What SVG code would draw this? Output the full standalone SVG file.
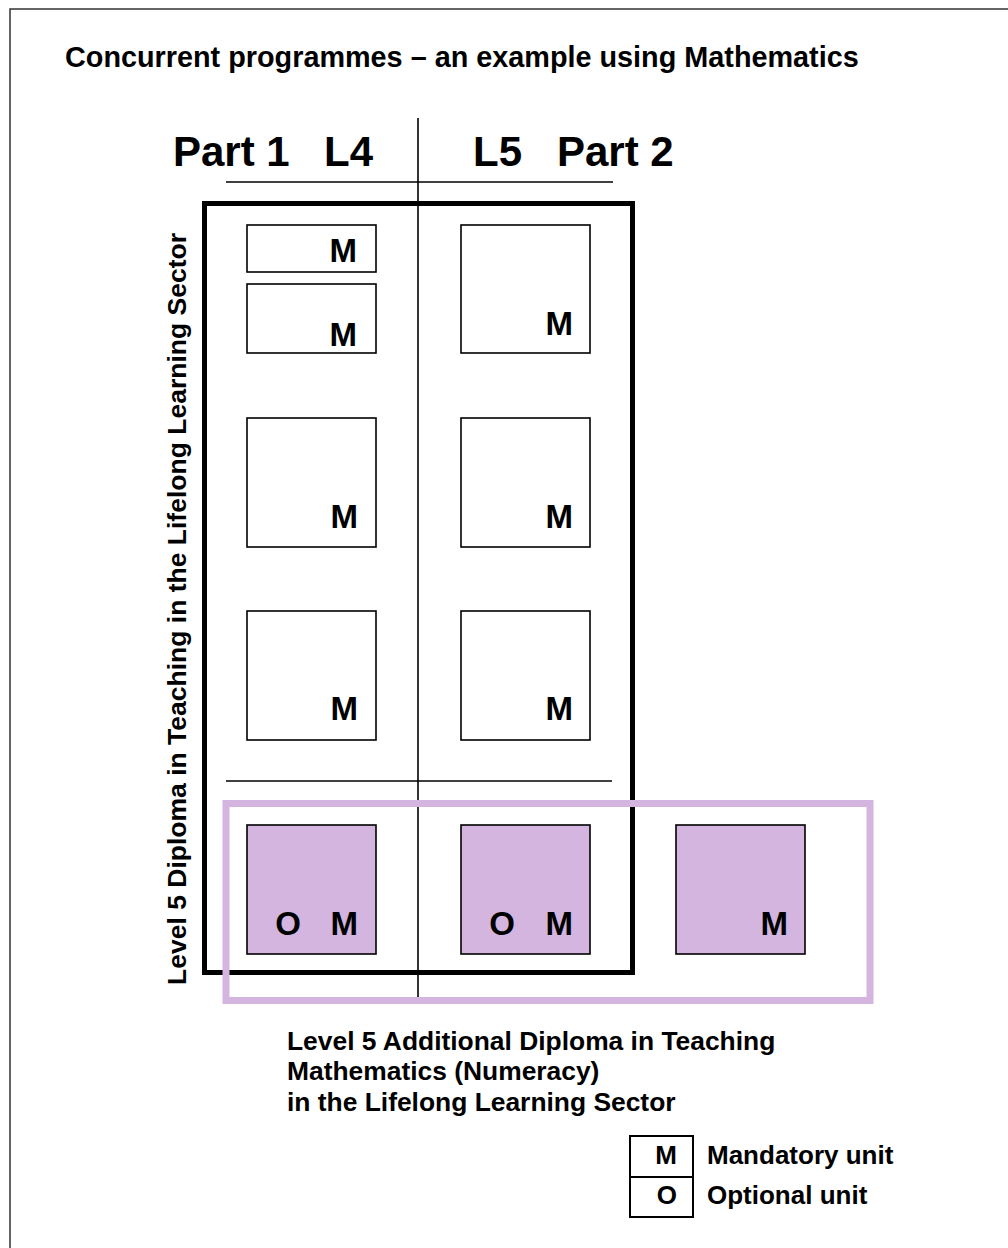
<svg xmlns="http://www.w3.org/2000/svg" width="1008" height="1248" viewBox="0 0 1008 1248">
<style>
text{font-family:"Liberation Sans",Arial,sans-serif;font-weight:bold;fill:#000}
.unit{fill:#fff;stroke:#000;stroke-width:1.6}
.opt{fill:#d3b5e0;stroke:#000;stroke-width:1.6}
.m{font-size:33px;text-anchor:end}
.thin{stroke:#000;stroke-width:1.6;fill:none}
.lg{font-size:26px}
.lbl{font-size:26.4px}
</style>
<rect x="10" y="9" width="1100" height="1300" fill="#fff" stroke="#333" stroke-width="1.5"/>
<text x="65" y="67" font-size="28.8px">Concurrent programmes – an example using Mathematics</text>
<g id="headers">
<text x="173" y="166" font-size="42px">Part 1<tspan x="324">L4</tspan></text>
<text x="473" y="166" font-size="42px">L5<tspan x="557">Part 2</tspan></text>
</g>
<g id="connectors">
<line class="thin" x1="418" y1="118" x2="418" y2="1001"/>
<line class="thin" x1="226" y1="182" x2="613" y2="182"/>
<line class="thin" x1="226" y1="781" x2="612" y2="781"/>
</g>
<g id="diploma-frame">
<rect x="204.5" y="203.5" width="428" height="769" fill="none" stroke="#000" stroke-width="5"/>
<text transform="translate(186,609) rotate(-90)" font-size="26.5px" text-anchor="middle">Level 5 Diploma in Teaching in the Lifelong Learning Sector</text>
</g>
<g id="u1a"><rect class="unit" x="247" y="225" width="129" height="47"/><text class="m" x="357" y="262">M</text></g>
<g id="u1b"><rect class="unit" x="247" y="284" width="129" height="69"/><text class="m" x="357" y="346">M</text></g>
<g id="u2"><rect class="unit" x="461" y="225" width="129" height="128"/><text class="m" x="573" y="335">M</text></g>
<g id="u3"><rect class="unit" x="247" y="418" width="129" height="129"/><text class="m" x="358" y="528">M</text></g>
<g id="u4"><rect class="unit" x="461" y="418" width="129" height="129"/><text class="m" x="573" y="528">M</text></g>
<g id="u5"><rect class="unit" x="247" y="611" width="129" height="129"/><text class="m" x="358" y="720">M</text></g>
<g id="u6"><rect class="unit" x="461" y="611" width="129" height="129"/><text class="m" x="573" y="720">M</text></g>
<g id="p1"><rect class="opt" x="247" y="825" width="129" height="129"/><text class="m" x="301" y="935">O</text><text class="m" x="358" y="935">M</text></g>
<g id="p2"><rect class="opt" x="461" y="825" width="129" height="129"/><text class="m" x="515" y="935">O</text><text class="m" x="573" y="935">M</text></g>
<g id="p3"><rect class="opt" x="676" y="825" width="129" height="129"/><text class="m" x="788" y="935">M</text></g>
<g id="additional-frame">
<rect x="226" y="803.5" width="644" height="197" fill="none" stroke="#d3b5e0" stroke-width="7"/>
</g>
<g id="additional-label">
<text class="lbl" x="287" y="1050">Level 5 Additional Diploma in Teaching</text>
<text class="lbl" x="287" y="1080">Mathematics (Numeracy)</text>
<text class="lbl" x="287" y="1111">in the Lifelong Learning Sector</text>
</g>
<g id="legend">
<rect x="630" y="1136" width="63" height="81" fill="none" stroke="#000" stroke-width="2"/>
<line x1="630" y1="1177" x2="693" y2="1177" stroke="#000" stroke-width="2"/>
<text class="lg" x="677" y="1164" text-anchor="end">M</text>
<text class="lg" x="677" y="1204" text-anchor="end">O</text>
<text class="lg" x="707" y="1164">Mandatory unit</text>
<text class="lg" x="707" y="1204">Optional unit</text>
</g>
</svg>
